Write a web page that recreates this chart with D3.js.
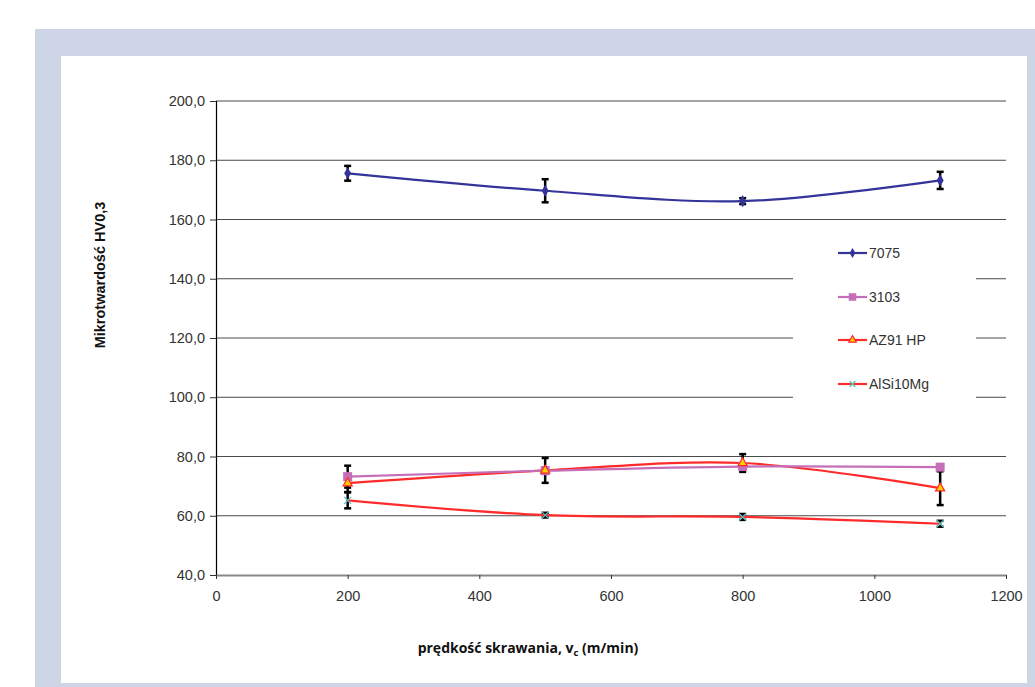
<!DOCTYPE html>
<html>
<head>
<meta charset="utf-8">
<script src="https://cdn.jsdelivr.net/npm/d3@7"></script>
<style>
  html, body { margin: 0; padding: 0; background: #ffffff; }
  svg { display: block; }
</style>
</head>
<body>
<svg id="chart" width="1035" height="687"></svg>
<script>
// Cutting speed v_c (m/min)
const speeds = [200, 500, 800, 1100];

// Microhardness HV0,3 per alloy and its scatter
const names = ["7075", "3103", "AZ91 HP", "AlSi10Mg"];
const hv7075 = [175.6, 169.7, 166.2, 173.2];
const err7075 = [2.5, 3.9, 1.0, 2.9];
const hv3103 = [73.2, 75.2, 76.6, 76.4];
const err3103 = [3.7, 1.0, 1.0, 0.5];
const hvAZ91 = [71.0, 75.3, 77.8, 69.3];
const errAZ91 = [3.0, 4.2, 3.0, 5.7];
const hvAlSi = [65.2, 60.2, 59.6, 57.3];
const errAlSi = [2.7, 0.8, 1.0, 1.0];

const xTicks = [0, 200, 400, 600, 800, 1000, 1200];
const yTicks = [40, 60, 80, 100, 120, 140, 160, 180, 200];

const svg = d3.select("#chart");

// frame: light blue border around a white panel
svg.append("rect").attr("x", 35).attr("y", 29).attr("width", 1000).attr("height", 658).attr("fill", "#cdd5e7");
svg.append("rect").attr("x", 61).attr("y", 56).attr("width", 966).attr("height", 627).attr("fill", "#ffffff");

const x = d3.scaleLinear().domain([0, 1200]).range([216, 1006]);
const y = d3.scaleLinear().domain([40, 200]).range([575, 101]);

const tickFont = "'Liberation Sans', Arial, sans-serif";

// horizontal gridlines
svg.append("g").selectAll("line").data(yTicks.filter(v => v > 40)).join("line")
  .attr("x1", x(0)).attr("x2", x(1200))
  .attr("y1", d => y(d)).attr("y2", d => y(d))
  .attr("stroke", "#4a4a4a").attr("stroke-width", 1);

// y axis
const yAxis = svg.append("g").attr("transform", `translate(${x(0)},0)`)
  .call(d3.axisLeft(y).tickValues(yTicks).tickSize(6).tickPadding(5)
    .tickFormat(d => d3.format(".1f")(d).replace(".", ",")));
yAxis.select(".domain").attr("stroke", "#000").attr("stroke-width", 1.2);
yAxis.selectAll(".tick line").attr("stroke", "#333");
yAxis.selectAll("text").attr("font-family", tickFont).attr("font-size", 14.5).attr("fill", "#333");

// x axis
const xAxis = svg.append("g").attr("transform", `translate(0,${y(40)})`)
  .call(d3.axisBottom(x).tickValues(xTicks).tickFormat(d3.format("d"))
    .tickSize(4).tickPadding(12).tickSizeOuter(0));
xAxis.select(".domain").attr("stroke", "#888").attr("stroke-width", 2.2);
xAxis.selectAll(".tick line").attr("stroke", "#333");
xAxis.selectAll("text").attr("font-family", tickFont).attr("font-size", 14.5).attr("fill", "#333");

// axis titles
svg.append("text")
  .attr("transform", `translate(105,275) rotate(-90)`)
  .attr("text-anchor", "middle")
  .attr("font-family", tickFont).attr("font-weight", "bold").attr("font-size", 14.5)
  .attr("fill", "#111")
  .text("Mikrotwardość HV0,3");

const xt = svg.append("text")
  .attr("x", 528).attr("y", 653)
  .attr("text-anchor", "middle")
  .attr("font-family", "'Open Sans', sans-serif").attr("font-weight", "bold").attr("font-size", 14)
  .attr("fill", "#111");
xt.append("tspan").text("prędkość skrawania, v");
xt.append("tspan").attr("font-size", 9.5).attr("dy", 3).text("c");
xt.append("tspan").attr("dy", -3).text(" (m/min)");

// series definitions
const series = [
  { name: names[0], values: hv7075, errs: err7075, color: "#33339a", marker: "diamond" },
  { name: names[1], values: hv3103, errs: err3103, color: "#c46fb8", marker: "square" },
  { name: names[2], values: hvAZ91, errs: errAZ91, color: "#ff2a2a", marker: "triangle" },
  { name: names[3], values: hvAlSi, errs: errAlSi, color: "#ff2a2a", marker: "cross" }
];
series.forEach(s => { s.points = speeds.map((v, i) => ({ x: v, y: s.values[i], e: s.errs[i] })); });

const line = d3.line().x(d => x(d.x)).y(d => y(d.y)).curve(d3.curveCardinal.tension(0));

const plot = svg.append("g");
series.slice().reverse().forEach(s => {
  plot.append("path").datum(s.points)
    .attr("d", line)
    .attr("fill", "none")
    .attr("stroke", s.color)
    .attr("stroke-width", 2.2);
});

// error bars
series.forEach(s => {
  const g = plot.append("g");
  s.points.forEach(p => {
    const top = y(p.y + p.e), bot = y(p.y - p.e), cx = x(p.x);
    g.append("line").attr("x1", cx).attr("x2", cx).attr("y1", top).attr("y2", bot)
      .attr("stroke", "#000").attr("stroke-width", 2.5);
    [top, bot].forEach(yy => g.append("line")
      .attr("x1", cx - 3.5).attr("x2", cx + 3.5).attr("y1", yy).attr("y2", yy)
      .attr("stroke", "#000").attr("stroke-width", 2.5));
  });
});

function drawMarker(g, type, cx, cy, color, scale) {
  const k = scale || 1;
  if (type === "diamond") {
    g.append("path").attr("d", d3.symbol().type(d3.symbolDiamond).size(42 * k)())
      .attr("transform", `translate(${cx},${cy})`).attr("fill", color);
  } else if (type === "square") {
    const h = 4.5 * Math.sqrt(k);
    g.append("rect").attr("x", cx - h).attr("y", cy - h).attr("width", 2 * h).attr("height", 2 * h)
      .attr("fill", "#c46fb8");
  } else if (type === "triangle") {
    g.append("path").attr("d", d3.symbol().type(d3.symbolTriangle).size(36 * k)())
      .attr("transform", `translate(${cx},${cy})`)
      .attr("fill", "#ffcc00").attr("stroke", "#ff2a2a").attr("stroke-width", 1.2);
  } else {
    const h = 3.5 * Math.sqrt(k);
    g.append("path").attr("d", `M${cx - h},${cy - h}L${cx + h},${cy + h}M${cx - h},${cy + h}L${cx + h},${cy - h}`)
      .attr("stroke", "#5fc0c0").attr("stroke-width", 1.3);
  }
}

// markers
series.forEach(s => {
  const g = plot.append("g");
  s.points.forEach(p => drawMarker(g, s.marker, x(p.x), y(p.y), s.color));
});

// legend
const legend = svg.append("g");
legend.append("rect").attr("x", 793).attr("y", 228).attr("width", 183).attr("height", 176).attr("fill", "#ffffff");
const legendY = [253, 297, 340, 384];
series.forEach((s, i) => {
  const ly = legendY[i];
  legend.append("line").attr("x1", 838).attr("x2", 867).attr("y1", ly).attr("y2", ly)
    .attr("stroke", s.color).attr("stroke-width", 2.2);
  drawMarker(legend, s.marker, 852.5, ly, s.color, 0.7);
  legend.append("text").attr("x", 869).attr("y", ly + 5)
    .attr("font-family", tickFont).attr("font-size", 14).attr("fill", "#333")
    .text(s.name);
});
</script>
</body>
</html>
